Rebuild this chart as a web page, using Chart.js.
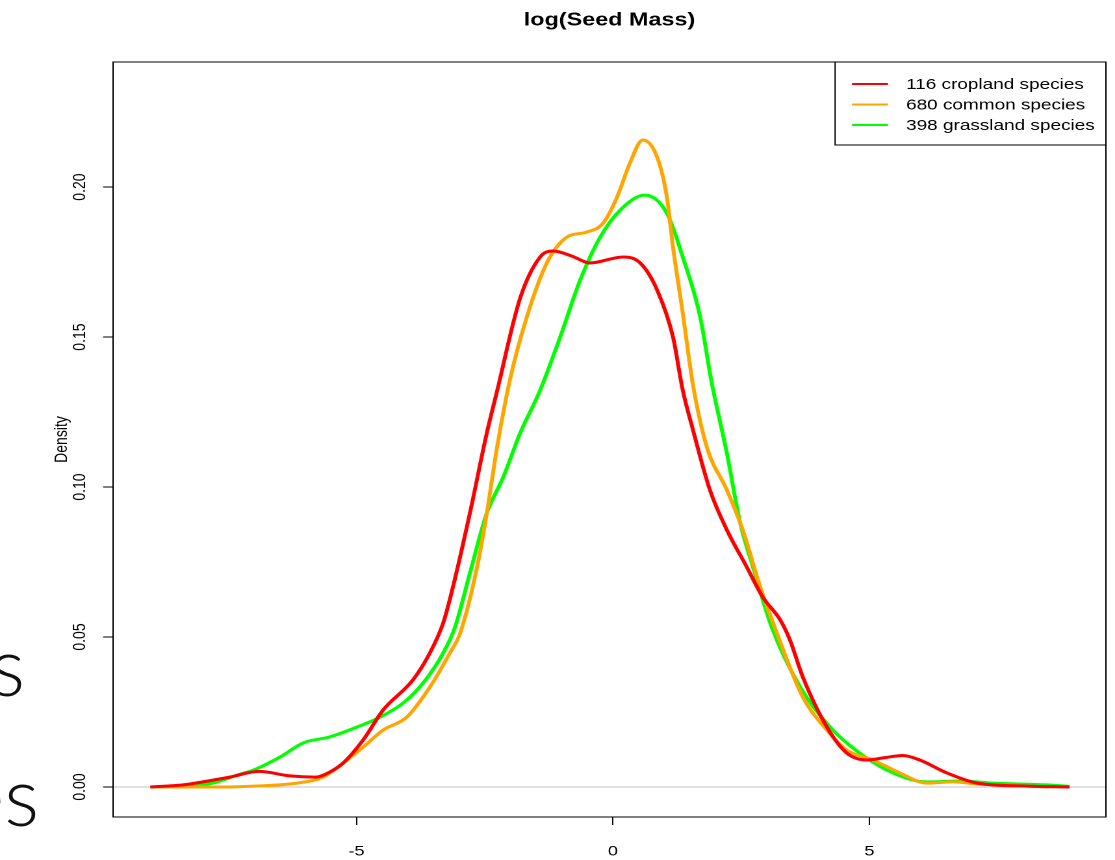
<!DOCTYPE html>
<html>
<head>
<meta charset="utf-8">
<title>log(Seed Mass)</title>
<script src="https://cdn.jsdelivr.net/npm/chart.js@4.4.1/dist/chart.umd.min.js"></script>
<style>
    html, body { margin: 0; padding: 0; background: #fff; overflow: hidden; }
    #wrap { position: relative; width: 1115px; height: 860px; overflow: hidden; }
    /* the R device was stretched sideways, so the canvas is too */
    #densityChart { position: absolute; left: 0; top: 0; transform-origin: 0 0; transform: scaleX(1.29953); }
    .slide-text {
        position: absolute; width: 300px; text-align: right; white-space: nowrap;
        font-family: Lato, "Open Sans", sans-serif; font-weight: 300; font-style: normal;
        font-size: 82px; line-height: 82px; color: #111;
    }
</style>
</head>
<body>
<div id="wrap">
    <canvas id="densityChart" width="858" height="860"></canvas>
    <div class="slide-text" style="left:-275px; top:623px;">s</div>
    <div class="slide-text" style="left:-261px; top:753px;">es</div>
</div>
<script>
// Axis ticks
const xTicks = [-5, 0, 5];
const yTicks = [0, 0.05, 0.10, 0.15, 0.20];

// Kernel density estimates, [log seed mass, density]
const cropland = [
    [-9.02, 0], [-8.38, 0.0007], [-7.8, 0.0023], [-7.47, 0.0033], [-6.9, 0.0052],
    [-6.3, 0.0037], [-5.8, 0.0033], [-5.52, 0.005], [-5.26, 0.008], [-4.87, 0.0157],
    [-4.48, 0.0257], [-3.9, 0.0357], [-3.57, 0.0447], [-3.31, 0.0547], [-3.12, 0.0667],
    [-2.79, 0.0913], [-2.46, 0.118], [-2.26, 0.132], [-1.81, 0.163], [-1.42, 0.1767],
    [-1.17, 0.1787], [-0.8, 0.177], [-0.45, 0.1747], [0.2, 0.1767], [0.53, 0.1747],
    [0.86, 0.1657], [1.17, 0.15], [1.36, 0.1323], [1.56, 0.119], [1.89, 0.099],
    [2.22, 0.0857], [2.61, 0.0733], [2.92, 0.0633], [3.26, 0.0557], [3.45, 0.049],
    [3.7, 0.0367], [4.17, 0.02], [4.56, 0.0113], [4.95, 0.009], [5.3, 0.0098],
    [5.65, 0.0105], [5.98, 0.009], [6.51, 0.0047], [7.1, 0.0013], [8.07, 0.0003], [8.9, 0]
];
const common = [
    [-9.02, 0], [-7.6, 0], [-7.0, 0.0003], [-6.16, 0.0013], [-5.65, 0.0033],
    [-5.26, 0.008], [-4.87, 0.0133], [-4.48, 0.019], [-4.02, 0.0233], [-3.57, 0.0333],
    [-3.18, 0.0447], [-2.98, 0.0513], [-2.65, 0.0733], [-2.46, 0.0913], [-2.26, 0.1133],
    [-2.01, 0.1357], [-1.68, 0.1567], [-1.29, 0.1747], [-0.9, 0.1833], [-0.51, 0.185],
    [-0.19, 0.188], [0.08, 0.1967], [0.33, 0.208], [0.58, 0.2157], [0.86, 0.21],
    [1.05, 0.1967], [1.17, 0.18], [1.36, 0.158], [1.56, 0.134], [1.83, 0.1133],
    [2.22, 0.099], [2.53, 0.0857], [2.87, 0.0667], [3.18, 0.052], [3.7, 0.03],
    [4.17, 0.019], [4.56, 0.0123], [5.07, 0.009], [5.59, 0.0047], [6.12, 0.0013],
    [6.63, 0.0017], [7.1, 0.001], [8.07, 0.0003], [8.5, 0]
];
const grassland = [
    [-9.02, 0], [-8.4, 0.0003], [-7.8, 0.0013], [-7.27, 0.0043], [-7.0, 0.0057],
    [-6.49, 0.01], [-6.04, 0.0147], [-5.52, 0.0167], [-4.99, 0.02], [-4.54, 0.0233],
    [-4.09, 0.028], [-3.7, 0.0347], [-3.31, 0.0447], [-3.08, 0.0533], [-2.79, 0.0713],
    [-2.46, 0.0913], [-2.14, 0.1033], [-1.81, 0.118], [-1.42, 0.1323], [-1.03, 0.15],
    [-0.64, 0.169], [-0.25, 0.1833], [0.14, 0.1923], [0.62, 0.1973], [1.05, 0.1913],
    [1.36, 0.1767], [1.7, 0.1567], [1.92, 0.1352], [2.22, 0.1113], [2.48, 0.088],
    [2.73, 0.0733], [3.09, 0.0535], [3.65, 0.0333], [4.23, 0.02], [4.81, 0.0113],
    [5.46, 0.0047], [6.12, 0.0017], [6.76, 0.002], [7.41, 0.0013], [8.46, 0.0007], [8.9, 0.0002]
];

const seriesLabels = ['116 cropland species', '680 common species', '398 grassland species'];
const seriesColors = ['#ff0000', '#ffa500', '#00ff00'];

const FONT = "'Liberation Sans', Arial, Helvetica, sans-serif";
Chart.defaults.font.family = FONT;
Chart.defaults.color = '#000';

// R-style frame round the plot region
const plotBox = {
    id: 'plotBox',
    afterDraw(chart) {
        const { ctx, chartArea: a } = chart;
        ctx.save();
        ctx.strokeStyle = '#000';
        ctx.lineWidth = 1;
        ctx.strokeRect(a.left, a.top, a.right - a.left, a.bottom - a.top);
        ctx.restore();
    }
};

// y tick labels run parallel to the axis, as R does with las=0
const yTickLabels = {
    id: 'yTickLabels',
    afterDraw(chart) {
        const { ctx } = chart;
        const y = chart.scales.y;
        ctx.save();
        ctx.font = '14px ' + FONT;
        ctx.fillStyle = '#000';
        ctx.textAlign = 'center';
        ctx.textBaseline = 'middle';
        y.ticks.forEach(t => {
            ctx.save();
            ctx.translate(61.6, y.getPixelForValue(t.value));
            ctx.rotate(-Math.PI / 2);
            ctx.fillText(t.value.toFixed(2), 0, 0);
            ctx.restore();
        });
        ctx.restore();
    }
};

// boxed legend in the top right corner
const boxLegend = {
    id: 'boxLegend',
    afterDraw(chart) {
        const { ctx, chartArea: a } = chart;
        const w = 208.4, h = 83;
        const left = a.right - w, top = a.top;
        ctx.save();
        ctx.fillStyle = '#fff';
        ctx.fillRect(left, top, w, h);
        ctx.strokeStyle = '#000';
        ctx.lineWidth = 1;
        ctx.strokeRect(left, top, w, h);
        ctx.font = '14.6px ' + FONT;
        ctx.textBaseline = 'middle';
        ctx.textAlign = 'left';
        chart.data.datasets.forEach((ds, i) => {
            const rowY = top + 22 + i * 20.5;
            ctx.strokeStyle = ds.borderColor;
            ctx.lineWidth = 2;
            ctx.beginPath();
            ctx.moveTo(left + 13, rowY);
            ctx.lineTo(left + 40.7, rowY);
            ctx.stroke();
            ctx.fillStyle = '#000';
            ctx.fillText(ds.label, left + 54.6, rowY + 1);
        });
        ctx.restore();
    }
};

const toPoints = arr => arr.map(([x, y]) => ({ x, y }));
const curves = [cropland, common, grassland];

new Chart(document.getElementById('densityChart'), {
    type: 'line',
    data: {
        datasets: curves.map((c, i) => ({
            label: seriesLabels[i],
            data: toPoints(c),
            borderColor: seriesColors[i],
            borderWidth: 3,
            pointRadius: 0,
            fill: false,
            cubicInterpolationMode: 'monotone'
        }))
    },
    options: {
        responsive: false,
        animation: false,
        devicePixelRatio: 2,
        layout: { padding: { right: 7 } },
        plugins: {
            legend: { display: false },
            tooltip: { enabled: false },
            title: {
                display: true,
                text: 'log(Seed Mass)',
                fullSize: false,
                font: { size: 18, weight: 'bold' },
                color: '#000',
                padding: { top: 9.5, bottom: 30.9 }
            }
        },
        scales: {
            x: {
                type: 'linear',
                min: -9.747,
                max: 9.61,
                afterBuildTicks: s => { s.ticks = xTicks.map(v => ({ value: v })); },
                afterFit: s => { s.height = 43; },
                border: { display: false },
                grid: { drawOnChartArea: false, drawTicks: true, tickLength: 8, tickColor: '#000', lineWidth: 1 },
                ticks: { font: { size: 14 }, color: '#000', padding: 18, maxRotation: 0, autoSkip: false,
                         callback: v => String(v) }
            },
            y: {
                type: 'linear',
                min: -0.01,
                max: 0.2417,
                afterBuildTicks: s => { s.ticks = yTicks.map(v => ({ value: v })); },
                afterFit: s => { s.width = 87; },
                border: { display: false },
                grid: {
                    drawOnChartArea: true,
                    drawTicks: true,
                    tickLength: 7.7,
                    tickColor: '#000',
                    color: c => (c.tick && c.tick.value === 0) ? '#c0c0c0' : 'rgba(0,0,0,0)',
                    lineWidth: 1
                },
                ticks: { display: false },
                title: {
                    display: true,
                    text: 'Density',
                    font: { size: 14 },
                    color: '#000',
                    padding: { top: 39.3, bottom: 0 }
                }
            }
        }
    },
    plugins: [plotBox, yTickLabels, boxLegend]
});
</script>
</body>
</html>
